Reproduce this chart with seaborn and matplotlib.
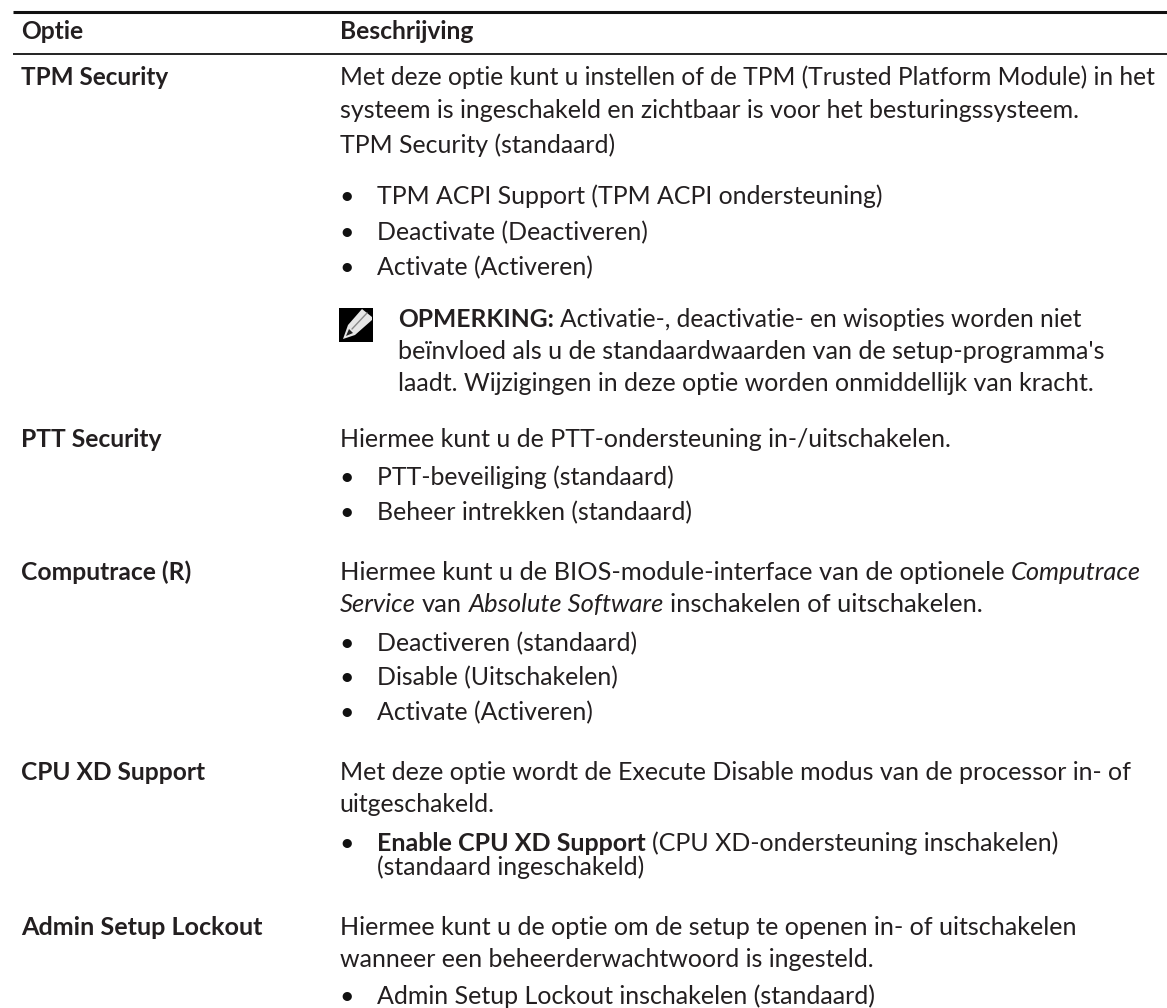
import re
import matplotlib
matplotlib.use("Agg")
import matplotlib.pyplot as plt
from matplotlib.patches import Polygon, Rectangle
import seaborn as sns

sns.set_theme(style="white")
plt.rcParams['font.family'] = ['Lato', 'DejaVu Sans']

# ---- content ----
headers = ["Optie", "Beschrijving"]
options = ["TPM Security", "PTT Security", "Computrace (R)", "CPU XD Support", "Admin Setup Lockout"]
body_lines = [
    "Met deze optie kunt u instellen of de TPM (Trusted Platform Module) in het",
    "systeem is ingeschakeld en zichtbaar is voor het besturingssysteem.",
    "TPM Security (standaard)",
    "Hiermee kunt u de PTT-ondersteuning in-/uitschakelen.",
    "Hiermee kunt u de BIOS-module-interface van de optionele Computrace",
    "Service van Absolute Software inschakelen of uitschakelen.",
    "Met deze optie wordt de Execute Disable modus van de processor in- of",
    "uitgeschakeld.",
    "Hiermee kunt u de optie om de setup te openen in- of uitschakelen",
    "wanneer een beheerderwachtwoord is ingesteld.",
]
bullet_lines = [
    "TPM ACPI Support (TPM ACPI ondersteuning)",
    "Deactivate (Deactiveren)",
    "Activate (Activeren)",
    "PTT-beveiliging (standaard)",
    "Beheer intrekken (standaard)",
    "Deactiveren (standaard)",
    "Disable (Uitschakelen)",
    "Activate (Activeren)",
    "Enable CPU XD Support (CPU XD-ondersteuning inschakelen)",
    "Admin Setup Lockout inschakelen (standaard)",
]
continuation_lines = ["(standaard ingeschakeld)"]
note_lines = [
    "OPMERKING: Activatie-, deactivatie- en wisopties worden niet",
    "beïnvloed als u de standaardwaarden van de setup-programma's",
    "laadt. Wijzigingen in deze optie worden onmiddellijk van kracht.",
]
bold_phrases = ["OPMERKING:", "Enable CPU XD Support"]
italic_phrases = ["Computrace", "Service", "Absolute Software"]

# ---- layout ----
header_baseline = 39
option_baselines = [85, 447, 580, 780, 935]
option_ends = [168, None, None, 205, 263]
body_baselines = [85, 118, 153, 447, 580, 612, 780, 812, 935, 967]
body_ends = [1154, 1077, None, 951, 1140, 980, 1130, None, 1077, 872]
bullet_baselines = [204, 240, 275, 485, 520, 651, 685, 720, 851, 1004]
bullet_ends = [None, None, None, None, None, None, None, None, 1056, 874]
continuation_baselines = [875]
note_baselines = [327, 359, 391]
note_ends = [1079, 1104, 1094]

fig = plt.figure(figsize=(11.67, 10.08), dpi=100)
ax = fig.add_axes([0, 0, 1, 1])
ax.set_xlim(0, 1167)
ax.set_ylim(1008, 0)
ax.axis("off")
FS = 17.95
BOLD_FS = 17.7
C = "#231f20"
X_LEFT, X_DESC, X_BULLET, X_NOTE = 21, 339.5, 377, 398
renderer = fig.canvas.get_renderer()
STYLES = {"n": {}, "b": {"weight": "bold"}, "i": {"style": "italic"}}
SPLIT = re.compile("(" + "|".join(map(re.escape, bold_phrases + italic_phrases)) + ")")


def runs_of(line):
    out = []
    for part in SPLIT.split(line):
        if part:
            style = "b" if part in bold_phrases else "i" if part in italic_phrases else "n"
            out.append((part, style))
    return out


def width(s, style, fs):
    a = ax.text(0, 0, s + "|", fontsize=fs, **STYLES[style])
    b = ax.text(0, 0, "|", fontsize=fs, **STYLES[style])
    w = a.get_window_extent(renderer).width - b.get_window_extent(renderer).width
    a.remove()
    b.remove()
    return w


def draw_line(x, y, line, end=None):
    runs = runs_of(line)
    fs = FS
    if end is not None:
        fs = FS * (end - x) / sum(width(s, st, FS) for s, st in runs)
    for s, style in runs:
        lead = width(" ", style, fs) if s.startswith(" ") else 0
        ax.text(x + lead, y, s.strip(" "), fontsize=fs, color=C, va="baseline", **STYLES[style])
        x += width(s, style, fs)


ax.plot([13, 1167], [12, 12], color="#111111", lw=2.2, solid_capstyle="butt")
ax.plot([13, 1167], [54, 54], color="#222222", lw=1.4, solid_capstyle="butt")
ax.text(X_LEFT, header_baseline, headers[0], fontsize=BOLD_FS, weight="bold", color=C, va="baseline")
ax.text(X_DESC, header_baseline, headers[1], fontsize=BOLD_FS, weight="bold", color=C, va="baseline")

for y, t, end in zip(option_baselines, options, option_ends):
    fs = BOLD_FS
    if end is not None:
        fs = BOLD_FS * (end - X_LEFT) / width(t, "b", BOLD_FS)
    ax.text(X_LEFT, y, t, fontsize=fs, weight="bold", color=C, va="baseline")
for y, t, end in zip(body_baselines, body_lines, body_ends):
    draw_line(X_DESC, y, t, end)
for y, t, end in zip(bullet_baselines, bullet_lines, bullet_ends):
    ax.text(X_DESC, y, "•", fontsize=FS, color="#111111", va="baseline")
    draw_line(X_BULLET, y, t, end)
for y, t in zip(continuation_baselines, continuation_lines):
    draw_line(X_BULLET, y, t)
for y, t, end in zip(note_baselines, note_lines, note_ends):
    draw_line(X_NOTE, y, t, end)

# note icon: black square with a white pencil
ax.add_patch(Rectangle((339, 308), 34, 34, color="black", lw=0))
ax.add_patch(Polygon([(348, 325), (362, 309), (372, 317), (372, 320), (355, 335), (343, 339)], closed=True,
                     facecolor="#e6e6e6", edgecolor="none"))
ax.add_patch(Polygon([(349, 329), (353, 333), (346, 336)], closed=True, facecolor="#222222", edgecolor="none"))
ax.plot([352, 367], [329, 313], color="#8a8a8a", lw=1.0)
fig.savefig("out.png", dpi=100)
